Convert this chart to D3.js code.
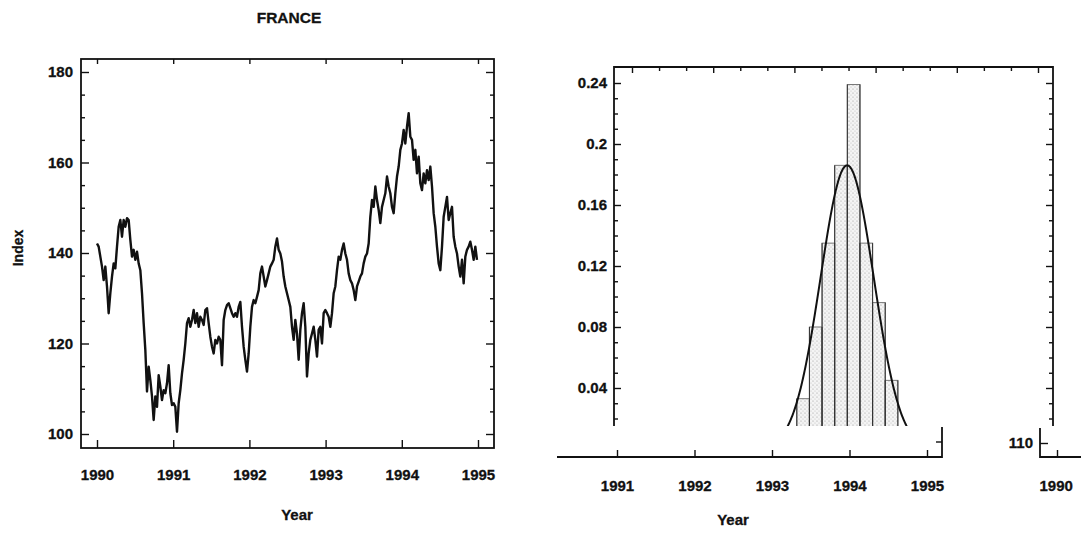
<!DOCTYPE html>
<html><head><meta charset="utf-8">
<script src="https://cdn.jsdelivr.net/npm/d3@7"></script>
<style>
body{margin:0;background:#fff;}
svg{display:block;font-family:"Liberation Sans",Arial,Helvetica,sans-serif;font-weight:bold;}
svg text{stroke:#111;stroke-width:0.3px;}
</style></head><body>
<svg id="chart" width="1081" height="534"></svg>
<script>
// ---- France index, sampled about every eight days from the start of 1990 ----
const seriesStart = 1990.0;
const seriesStepYears = 0.021872;
const indexValues = [
  142.1,141.4,139.2,137.0,134.0,137.0,132.6,126.7,131.1,134.8,137.7,136.6,141.4,145.8,147.3,143.6,
  147.3,145.8,147.7,147.3,142.9,139.2,140.7,138.5,140.3,137.7,136.2,131.1,124.5,118.6,109.4,114.9,
  111.9,108.3,103.1,108.3,106.0,113.0,110.5,107.5,109.7,109.0,111.2,115.2,109.0,106.4,106.8,106.0,
  100.5,106.8,109.7,113.4,116.4,120.0,124.5,125.6,123.7,125.2,127.4,124.5,126.7,123.7,125.9,125.2,
  124.1,127.4,127.8,124.5,121.5,119.3,117.8,120.8,120.0,121.5,120.8,115.2,125.2,127.4,128.5,128.9,
  127.8,126.7,125.9,126.7,125.9,128.1,129.2,123.7,119.3,116.4,113.8,117.8,123.7,128.1,129.6,128.9,
  130.3,131.8,135.5,137.0,134.8,132.6,134.0,135.5,137.0,137.7,138.5,141.4,143.2,140.7,139.9,138.1,
  134.8,132.6,131.1,129.6,128.1,123.7,120.8,125.2,122.2,116.4,123.0,126.7,128.9,123.7,112.7,117.8,
  120.8,122.2,123.7,120.8,117.1,123.0,123.7,120.0,126.7,127.4,126.7,125.9,123.7,126.7,131.1,132.6,
  136.2,139.2,138.5,140.7,142.1,139.9,138.5,135.5,134.0,133.3,131.8,129.6,132.6,133.7,134.8,135.5,
  137.7,139.2,139.9,142.1,148.0,151.7,150.2,154.7,151.7,149.5,146.6,150.2,151.7,153.2,156.9,154.7,
  153.2,150.2,148.8,153.2,156.9,159.1,162.8,164.2,167.2,164.2,167.9,170.9,165.7,165.0,160.6,162.8,
  157.6,161.3,155.4,153.9,157.6,155.4,158.3,156.1,159.1,154.7,148.8,145.8,141.4,137.7,136.2,141.4,
  148.0,150.2,152.4,147.3,148.8,150.2,143.6,141.4,139.9,137.0,134.8,138.5,133.3,139.2,140.7,141.4,
  142.5,140.7,138.5,141.4,138.5
];
const yearTicks = [1990, 1991, 1992, 1993, 1994, 1995];
const indexTicks = [100, 120, 140, 160, 180];

// ---- Frequency panel ----
const binStart = 1993.32;
const binWidth = 0.163;
const binFreq = [0.033, 0.080, 0.135, 0.186, 0.239, 0.135, 0.096, 0.045];
const freqTicks = [0.04, 0.08, 0.12, 0.16, 0.2, 0.24];
const fitMean = 1993.97;
const fitSd = 0.342;
const fitPeak = 0.186;
const stripYearTicks = [1991, 1992, 1993, 1994, 1995];
const cornerValueTicks = [110];
const cornerYearTicks = [1990];

const svg = d3.select("#chart");
const ink = "#111";
const labelSize = 15;

// ======================= Left panel: index over time =======================
const L = {left: 81, right: 494, top: 59, bottom: 448};
const x = d3.scaleLinear().domain([1990, 1995]).range([97, 478]);
const y = d3.scaleLinear().domain([100, 180]).range([434, 72]);

const left = svg.append("g");

function styleAxis(g) {
  g.select(".domain").remove();
  g.selectAll(".tick line").attr("stroke", ink).attr("stroke-width", 1.4);
  g.selectAll(".tick text").attr("fill", ink).style("font-size", labelSize + "px")
    .style("font-weight", "bold").style("font-family", '"Liberation Sans",Arial,sans-serif');
}

const minorIndex = d3.range(100, 181, 5).filter(v => v % 20 !== 0);

// left axis (labels outside, ticks inward)
left.append("g").attr("transform", `translate(${L.left},0)`)
  .call(d3.axisLeft(y).tickValues(indexTicks).tickSize(-8).tickPadding(8).tickFormat(d3.format("d")))
  .call(styleAxis);
left.append("g").attr("transform", `translate(${L.left},0)`)
  .call(d3.axisLeft(y).tickValues(minorIndex).tickSize(-4).tickFormat(""))
  .call(styleAxis);
// right axis mirror
left.append("g").attr("transform", `translate(${L.right},0)`)
  .call(d3.axisRight(y).tickValues(indexTicks).tickSize(-8).tickFormat(""))
  .call(styleAxis);
left.append("g").attr("transform", `translate(${L.right},0)`)
  .call(d3.axisRight(y).tickValues(minorIndex).tickSize(-4).tickFormat(""))
  .call(styleAxis);
// bottom axis
left.append("g").attr("transform", `translate(0,${L.bottom})`)
  .call(d3.axisBottom(x).tickValues(yearTicks).tickSize(-8).tickPadding(21).tickFormat(d3.format("d")))
  .call(styleAxis);
// top axis
left.append("g").attr("transform", `translate(0,${L.top})`)
  .call(d3.axisTop(x).tickValues(yearTicks).tickSize(-5).tickFormat(""))
  .call(styleAxis);

// frame
left.append("rect")
  .attr("x", L.left).attr("y", L.top)
  .attr("width", L.right - L.left).attr("height", L.bottom - L.top)
  .attr("fill", "none").attr("stroke", ink).attr("stroke-width", 1.8);

// series
const line = d3.line()
  .x((d, i) => x(seriesStart + i * seriesStepYears))
  .y(d => y(d));
left.append("path")
  .datum(indexValues)
  .attr("d", line)
  .attr("fill", "none")
  .attr("stroke", ink)
  .attr("stroke-width", 2.4)
  .attr("stroke-linejoin", "round");

// titles
left.append("text").attr("x", 289).attr("y", 23).attr("text-anchor", "middle")
  .style("font-size", "15.5px").attr("fill", ink).text("FRANCE");
left.append("text").attr("transform", "translate(23,248) rotate(-90)")
  .attr("text-anchor", "middle").style("font-size", "14px").attr("fill", ink).text("Index");
left.append("text").attr("x", 297).attr("y", 520).attr("text-anchor", "middle")
  .style("font-size", "15px").attr("fill", ink).text("Year");

// ======================= Right panel: frequency histogram =======================
const R = {left: 614, right: 1053, top: 67, bottom: 426};
const xr = d3.scaleLinear().domain([1991, 1995]).range([617, 927]);
const yr = d3.scaleLinear().domain([0.04, 0.24]).range([388, 83]);
const xt = d3.scaleLinear().domain([0, 15]).range([632, 1038]);

const right = svg.append("g");

const defs = svg.append("defs");
const pat = defs.append("pattern").attr("id", "stipple")
  .attr("patternUnits", "userSpaceOnUse").attr("width", 4).attr("height", 4);
pat.append("rect").attr("width", 4).attr("height", 4).attr("fill", "#f4f4f4");
pat.append("circle").attr("cx", 1).attr("cy", 1).attr("r", 0.6).attr("fill", "#999");
pat.append("circle").attr("cx", 3).attr("cy", 3).attr("r", 0.5).attr("fill", "#b8b8b8");

defs.append("clipPath").attr("id", "histClip")
  .append("rect").attr("x", R.left).attr("y", R.top)
  .attr("width", R.right - R.left).attr("height", R.bottom - R.top);

const plot = right.append("g").attr("clip-path", "url(#histClip)");

const binX0 = i => xr(binStart + i * binWidth);
plot.selectAll("rect.bin")
  .data(binFreq)
  .join("rect")
  .attr("class", "bin")
  .attr("x", (d, i) => binX0(i))
  .attr("width", (d, i) => binX0(i + 1) - binX0(i))
  .attr("y", d => yr(d))
  .attr("height", d => yr(0) - yr(d))
  .attr("fill", "url(#stipple)")
  .attr("stroke", "#777")
  .attr("stroke-width", 1);

// darker bin side edges
plot.selectAll("path.edge")
  .data(binFreq)
  .join("path")
  .attr("class", "edge")
  .attr("d", (d, i) => `M${binX0(i)},${yr(0)}V${yr(d)}M${binX0(i + 1)},${yr(0)}V${yr(d)}`)
  .attr("stroke", "#333")
  .attr("stroke-width", 1);

// fitted normal density
const fitXs = d3.range(fitMean - 3.5 * fitSd, fitMean + 3.5 * fitSd, fitSd / 40);
const fitLine = d3.line()
  .x(v => xr(v))
  .y(v => yr(fitPeak * Math.exp(-0.5 * Math.pow((v - fitMean) / fitSd, 2))))
  .curve(d3.curveBasis);
plot.append("path").datum(fitXs).attr("d", fitLine)
  .attr("fill", "none").attr("stroke", ink).attr("stroke-width", 2);

const minorFreq = d3.range(2, 25).filter(k => k % 4 !== 0).map(k => k / 100);

right.append("g").attr("transform", `translate(${R.left},0)`)
  .call(d3.axisLeft(yr).tickValues(freqTicks).tickSize(-7).tickPadding(7).tickFormat(d => String(d)))
  .call(styleAxis);
right.append("g").attr("transform", `translate(${R.left},0)`)
  .call(d3.axisLeft(yr).tickValues(minorFreq).tickSize(-4).tickFormat(""))
  .call(styleAxis);
right.append("g").attr("transform", `translate(${R.right},0)`)
  .call(d3.axisRight(yr).tickValues(freqTicks).tickSize(-7).tickFormat(""))
  .call(styleAxis);
right.append("g").attr("transform", `translate(${R.right},0)`)
  .call(d3.axisRight(yr).tickValues(minorFreq).tickSize(-4).tickFormat(""))
  .call(styleAxis);
right.append("g").attr("transform", `translate(0,${R.top})`)
  .call(d3.axisTop(xt).tickValues(d3.range(0, 16).filter(k => k % 3 === 0)).tickSize(-6).tickFormat(""))
  .call(styleAxis);
right.append("g").attr("transform", `translate(0,${R.top})`)
  .call(d3.axisTop(xt).tickValues(d3.range(0, 16).filter(k => k % 3 !== 0)).tickSize(-4).tickFormat(""))
  .call(styleAxis);

// open frame: left, top, right edges
right.append("path")
  .attr("d", `M${R.left},${R.bottom}V${R.top}H${R.right}V${R.bottom}`)
  .attr("fill", "none").attr("stroke", ink).attr("stroke-width", 1.8);

// year strip along the bottom
const stripY = 457;
right.append("g").attr("transform", `translate(0,${stripY})`)
  .call(d3.axisBottom(xr).tickValues(stripYearTicks).tickSize(-7).tickPadding(23).tickFormat(d3.format("d")))
  .call(styleAxis);
right.append("path")
  .attr("d", `M557,${stripY}H942V427`)
  .attr("fill", "none").attr("stroke", ink).attr("stroke-width", 1.8);
right.append("line").attr("x1", 942).attr("x2", 936).attr("y1", 442).attr("y2", 442)
  .attr("stroke", ink).attr("stroke-width", 1.4);
right.append("text").attr("x", 733).attr("y", 525).attr("text-anchor", "middle")
  .style("font-size", "15px").attr("fill", ink).text("Year");

// corner of the neighbouring panel
const yc = d3.scaleLinear().domain([110, 120]).range([443, 398]);
const xc = d3.scaleLinear().domain([1990, 1991]).range([1057, 1133]);
right.append("g").attr("transform", "translate(1040,0)")
  .call(d3.axisLeft(yc).tickValues(cornerValueTicks).tickSize(-8).tickPadding(7).tickFormat(d3.format("d")))
  .call(styleAxis);
right.append("g").attr("transform", `translate(0,${stripY})`)
  .call(d3.axisBottom(xc).tickValues(cornerYearTicks).tickSize(-7).tickPadding(23).tickFormat(d3.format("d")))
  .call(styleAxis)
  .call(g => g.selectAll(".tick text").attr("text-anchor", "start").attr("dx", -18));
right.append("path")
  .attr("d", `M1040,428V${stripY}H1081`)
  .attr("fill", "none").attr("stroke", ink).attr("stroke-width", 1.8);
</script>
</body></html>
